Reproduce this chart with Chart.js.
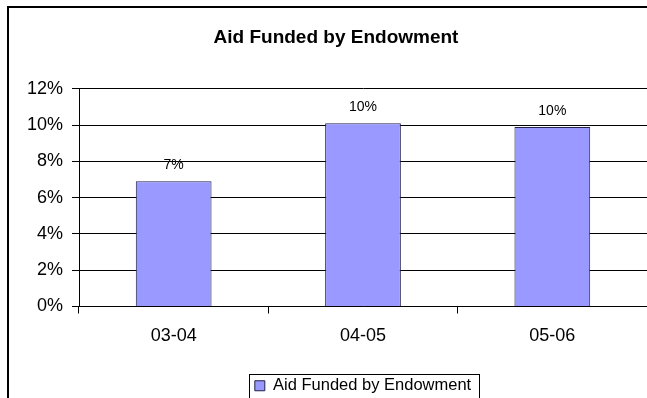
<!DOCTYPE html>
<html>
<head>
<meta charset="utf-8">
<title>Aid Funded by Endowment</title>
<script src="https://cdn.jsdelivr.net/npm/chart.js@4/dist/chart.umd.min.js"></script>
<style>
  html, body { margin: 0; padding: 0; background: #fff; overflow: hidden; }
  canvas { display: block; }
</style>
</head>
<body>
<canvas id="grafico" width="647" height="398"></canvas>
<script>
const anos = ["03-04", "04-05", "05-06"];
const percentuais = [6.9, 10.1, 9.9];
const marcasY = [0, 2, 4, 6, 8, 10, 12];
const nomeSerie = "Aid Funded by Endowment";

const fonte = "'Liberation Sans', Arial, sans-serif";

// moldura do grafico e da legenda, estilo planilha
const moldura = {
    id: "moldura",
    afterDraw(chart) {
        const ctx = chart.ctx;
        ctx.save();
        ctx.strokeStyle = "#000";
        ctx.lineWidth = 2;
        ctx.strokeRect(8, 7, 800, 600);

        const box = chart.legend.legendHitBoxes[0];
        if (box) {
            ctx.lineWidth = 1;
            ctx.strokeRect(Math.round(box.left - 6) + 0.5, Math.round(box.top - 4) + 0.5,
                Math.round(box.width + 14), Math.round(box.height + 7));
        }
        ctx.restore();
    }
};

// rotulo de valor em cima de cada barra
const rotulos = {
    id: "rotulos",
    afterDatasetsDraw(chart) {
        const ctx = chart.ctx;
        const meta = chart.getDatasetMeta(0);
        ctx.save();
        ctx.font = "14px " + fonte;
        ctx.fillStyle = "#000";
        ctx.textAlign = "center";
        ctx.textBaseline = "middle";
        meta.data.forEach((barra, i) => {
            const v = chart.data.datasets[0].data[i];
            ctx.fillText(Math.round(v) + "%", barra.x, barra.y - 16);
        });
        ctx.restore();
    }
};

new Chart(document.getElementById("grafico"), {
    type: "bar",
    data: {
        labels: anos,
        datasets: [{
            label: nomeSerie,
            data: percentuais,
            backgroundColor: "#9999FF",
            borderColor: "#22224a",
            borderWidth: 1,
            barPercentage: 0.4,
            categoryPercentage: 1
        }]
    },
    options: {
        responsive: false,
        animation: false,
        devicePixelRatio: 1,
        layout: { padding: { left: 25, right: 0, top: 0, bottom: -6 } },
        scales: {
            x: {
                grid: {
                    drawOnChartArea: false,
                    drawTicks: true,
                    tickLength: 7,
                    color: "#000"
                },
                border: { color: "#000", width: 1 },
                ticks: {
                    color: "#000",
                    padding: 12,
                    font: { family: fonte, size: 18 }
                },
                afterFit: (scale) => { scale.height = 66; }
            },
            y: {
                min: 0,
                max: 12,
                afterBuildTicks: (scale) => { scale.ticks = marcasY.map(v => ({ value: v })); },
                grid: {
                    color: "#000",
                    tickLength: 7,
                    tickColor: "#000"
                },
                border: { color: "#000", width: 1 },
                ticks: {
                    color: "#000",
                    padding: 9,
                    font: { family: fonte, size: 18 },
                    callback: (v) => v + "%"
                },
                afterFit: (scale) => { scale.width = 54; }
            }
        },
        plugins: {
            title: {
                display: true,
                text: "Aid Funded by Endowment",
                color: "#000",
                font: { family: fonte, size: 19, weight: "bold", lineHeight: 1.2 },
                padding: { top: 26, bottom: 40 }
            },
            legend: {
                display: true,
                position: "bottom",
                fullSize: false,
                labels: {
                    color: "#000",
                    boxWidth: 10,
                    boxHeight: 10,
                    padding: 5,
                    font: { family: fonte, size: 16.5 }
                }
            },
            tooltip: { enabled: false }
        }
    },
    plugins: [moldura, rotulos]
});
</script>
</body>
</html>
